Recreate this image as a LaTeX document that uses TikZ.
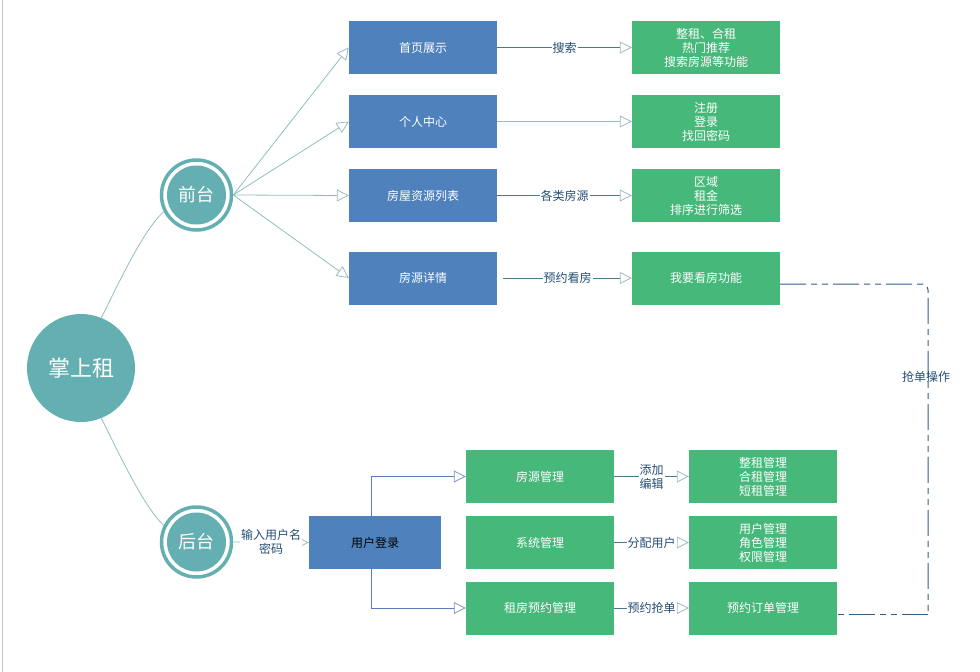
\documentclass[tikz,border=0pt]{standalone}
\usepackage{fontspec}
\setmainfont{Noto Sans CJK SC}
\usetikzlibrary{arrows.meta,calc}
\definecolor{tealc}{HTML}{64AFB1}
\definecolor{bluebox}{HTML}{4F81BD}
\definecolor{greenbox}{HTML}{46B87A}
\definecolor{lineteal}{HTML}{8FBFC0}
\definecolor{labelblue}{HTML}{254E74}
\definecolor{linkblue}{HTML}{5B7DB7}
\definecolor{dashblue}{HTML}{2F5D85}
\definecolor{darkline}{HTML}{4A7A90}
\definecolor{tipc}{HTML}{9BBCC0}
\definecolor{tipblue}{HTML}{8095C0}
\tikzset{
  boxbase/.style={rectangle, inner sep=0pt, minimum height=53pt, align=center, font=\fontsize{12}{14}\selectfont},
  bbox/.style={boxbase, fill=bluebox, text=white, minimum width=148pt},
  gbox/.style={boxbase, fill=greenbox, text=white, minimum width=148pt},
  lbox/.style={boxbase, fill=bluebox, text=black, minimum width=132pt},
  abox/.style={boxbase, fill=greenbox, text=white, minimum width=148pt},
  obox/.style={boxbase, fill=greenbox, text=white, minimum width=148pt},
  tealarrow/.style={-{Triangle[open, length=12pt, width=12pt, color=tipc]}, draw=lineteal, line width=0.8pt},
  blueflow/.style={-{Triangle[open, length=12pt, width=12pt, color=tipblue]}, draw=linkblue, line width=0.8pt},
  darkarrow/.style={-{Triangle[open, length=12pt, width=12pt, color=tipc]}, draw=darkline, line width=0.8pt},
  elabel/.style={fill=white, text=labelblue, inner sep=1pt, align=center, font=\fontsize{12}{14}\selectfont},
  ring/.style={circle, draw=tealc, line width=3.5pt, fill=white, minimum size=70pt, inner sep=0pt},
  core/.style={circle, fill=tealc, text=white, minimum size=59pt, inner sep=0pt, font=\fontsize{18}{20}\selectfont},
  dashline/.style={draw=dashblue, line width=1pt, dash pattern=on 26pt off 5pt on 6pt off 5pt on 6pt off 5pt}
}
\begin{document}
\begin{tikzpicture}[x=1pt, y=-1pt]
\useasboundingbox (0,0) rectangle (980,672);
\draw[gray!45, line width=1.5pt] (2.5,0) -- (2.5,672);

% centre and hubs
\node[circle, fill=tealc, text=white, minimum size=108pt, inner sep=0pt, font=\fontsize{22}{24}\selectfont] (main) at (81,368) {掌上租};
\node[ring] (qt) at (196.5,195) {};
\node[core] (qtc) at (196.5,195) {前台};
\node[ring] (ht) at (196.5,542) {};
\node[core] (htc) at (196.5,542) {后台};

\draw[lineteal, line width=0.8pt] (main.68) .. controls (118,285) and (143,230) .. (qt.207);
\draw[lineteal, line width=0.8pt] (main.-68) .. controls (118,451) and (143,506) .. (ht.153);

% front column
\node[bbox] (b1) at (423,47.5) {首页展示};
\node[bbox] (b2) at (423,121.5) {个人中心};
\node[bbox] (b3) at (423,195.5) {房屋资源列表};
\node[bbox] (b4) at (423,278) {房源详情};

\node[gbox] (g1) at (706,47.5) {整租、合租\\热门推荐\\搜索房源等功能};
\node[gbox] (g2) at (706,121.5) {注册\\登录\\找回密码};
\node[gbox] (g3) at (706,195.5) {区域\\租金\\排序进行筛选};
\node[gbox] (g4) at (706,278) {我要看房功能};

\foreach \b in {b1,b2,b3,b4} \draw[tealarrow] (qt.east) -- (\b.west);

\draw[darkarrow] (b1.east) -- node[elabel] {搜索} (g1.west);
\draw[tealarrow] (b2.east) -- (g2.west);
\draw[darkarrow] (b3.east) -- node[elabel] {各类房源} (g3.west);
\draw[darkarrow] ($(b4.east)+(6,0)$) -- node[elabel] {预约看房} (g4.west);

% back section
\node[lbox] (login) at (375,542.5) {用户登录};
\draw[tealarrow] (ht.east) -- node[elabel] {输入用户名\\密码} (login.west);

\node[abox] (a1) at (540,476.5) {房源管理};
\node[abox] (a2) at (540,542.5) {系统管理};
\node[abox] (a3) at (540,608) {租房预约管理};

\node[obox] (o1) at (763,476.5) {整租管理\\合租管理\\短租管理};
\node[obox] (o2) at (763,542.5) {用户管理\\角色管理\\权限管理};
\node[obox] (o3) at (763,608) {预约订单管理};

\draw[blueflow] ($(login.north)+(-4,0)$) |- (a1.west);
\draw[blueflow] ($(login.south)+(-4,0)$) |- (a3.west);

\draw[darkarrow] (a1.east) -- node[elabel] {添加\\编辑} (o1.west);
\draw[darkarrow] (a2.east) -- node[elabel] {分配用户} (o2.west);
\draw[darkarrow] (a3.east) -- node[elabel] {预约抢单} (o3.west);

% dash-dot link
\coordinate (turn) at (928,284);
\coordinate (low) at (928,614);
\draw[dashline, rounded corners=6pt] ($(g4.east)+(0,6)$) -- (turn) -- (low);
\draw[dashline] (low) -- ($(o3.east)+(0,6)$);
\node[text=labelblue, inner sep=1pt, font=\fontsize{12}{14}\selectfont] (lbl) at (926,377) {抢单操作};
\end{tikzpicture}
\end{document}
